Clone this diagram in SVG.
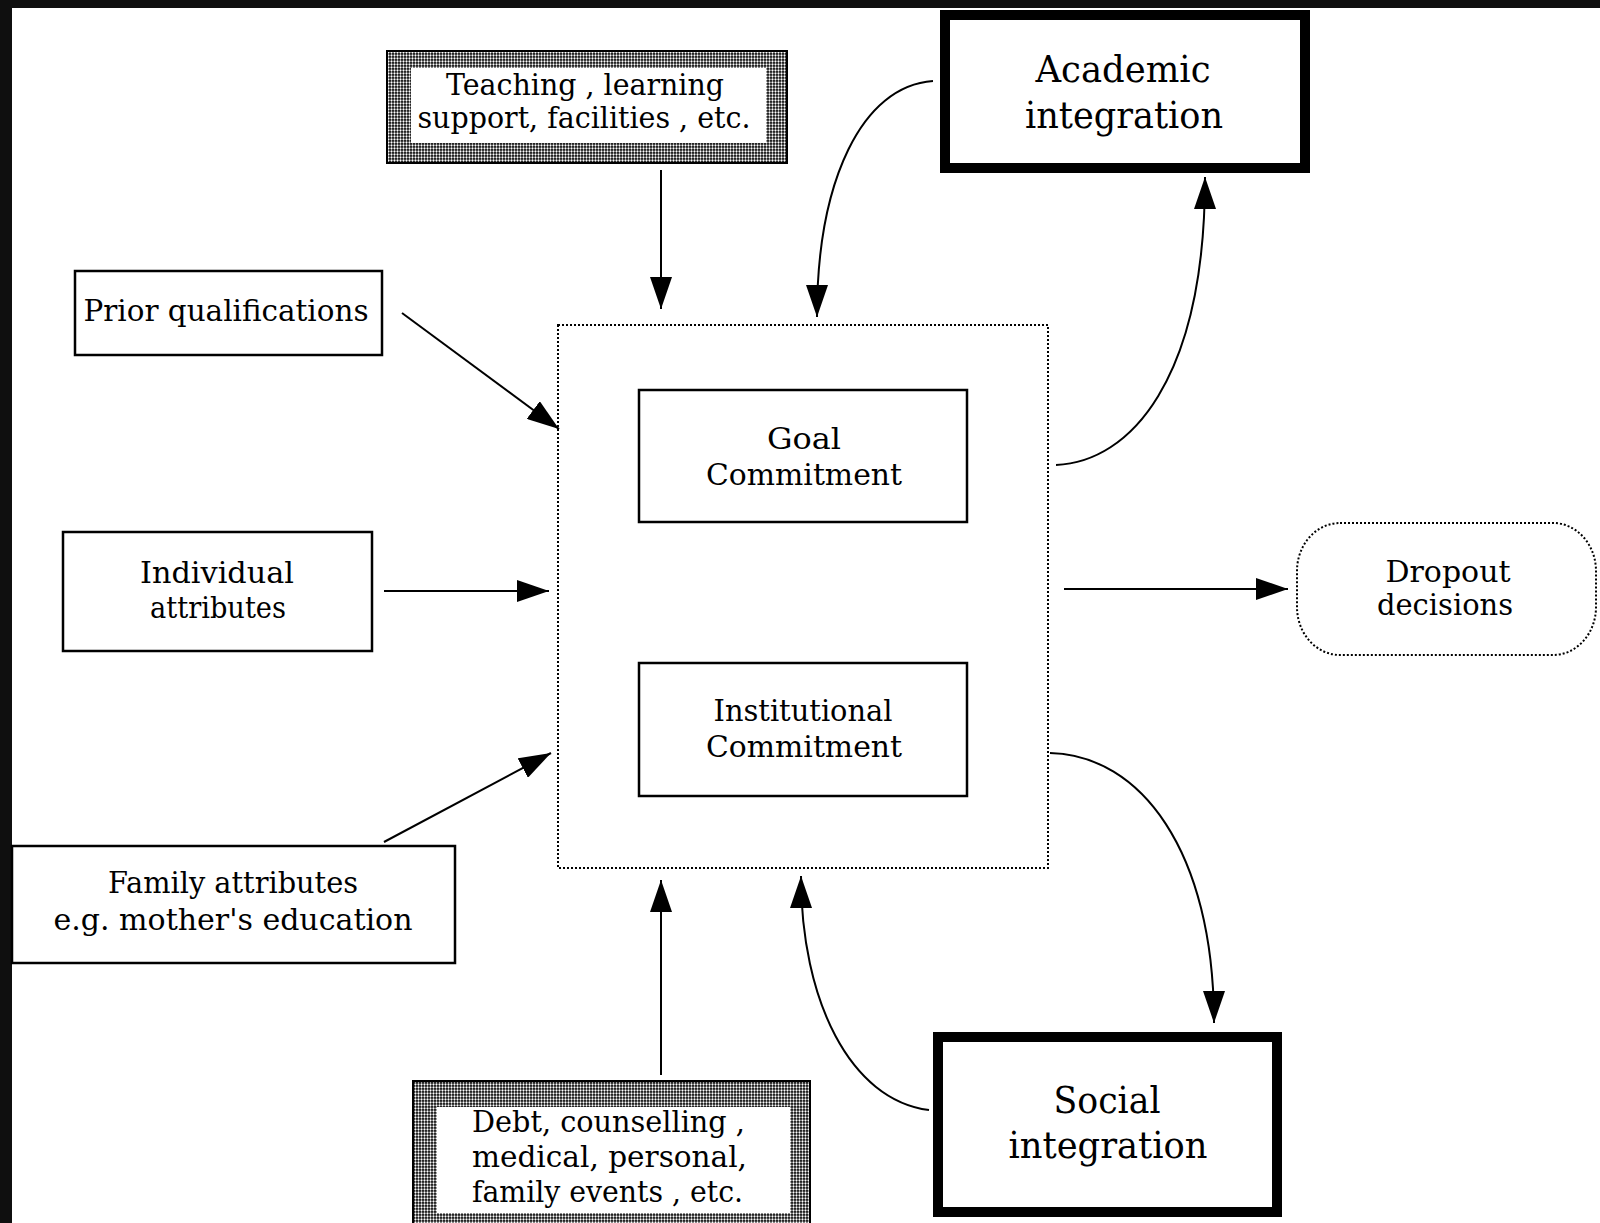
<svg xmlns="http://www.w3.org/2000/svg" width="1600" height="1223" viewBox="0 0 1600 1223">
  <defs>
    <!-- halftone fill used for the framed "external factor" boxes -->
    <pattern id="halftone" width="3" height="3" patternUnits="userSpaceOnUse">
      <rect width="3" height="3" fill="#000"/>
      <circle cx="1.5" cy="1.5" r="1.15" fill="#fff"/>
    </pattern>
    <marker id="arrow" viewBox="0 0 32 22" refX="32" refY="11" markerWidth="32" markerHeight="22" markerUnits="userSpaceOnUse" orient="auto">
      <path d="M0,0 L32,11 L0,22 Z" fill="#000"/>
    </marker>
    <style>
      .box { fill: #fff; stroke: #000; stroke-width: 2.5; }
      .thick { fill: #fff; stroke: #000; stroke-width: 10; }
      .dotted { fill: none; stroke: #000; stroke-width: 2; stroke-dasharray: 2 2; }
      .frame { fill: url(#halftone); stroke: #000; stroke-width: 2; }
      .inner { fill: #fff; stroke: none; }
      .label { font-family: "DejaVu Serif", "Liberation Serif", serif; font-size: 30px; fill: #000; }
      .big { font-size: 37px; }
      .mid { text-anchor: middle; }
      .link { fill: none; stroke: #000; stroke-width: 2; marker-end: url(#arrow); }
    </style>
  </defs>

  <!-- page and dark frame -->
  <rect width="1600" height="1223" fill="#fff"/>
  <rect x="0" y="0" width="1600" height="8" fill="#0f0f0f"/>
  <rect x="0" y="0" width="12" height="1223" fill="#0f0f0f"/>

  <!-- central commitment area -->
  <g id="commitment-area">
    <rect class="dotted" x="558" y="325" width="490" height="543"/>
  </g>

  <g id="goal-commitment">
    <rect class="box" x="639" y="390" width="328" height="132"/>
    <text class="label mid" x="804" y="449" textLength="74" lengthAdjust="spacingAndGlyphs">Goal</text>
    <text class="label mid" x="804" y="485" textLength="196" lengthAdjust="spacingAndGlyphs">Commitment</text>
  </g>

  <g id="institutional-commitment">
    <rect class="box" x="639" y="663" width="328" height="133"/>
    <text class="label mid" x="803" y="721" textLength="179" lengthAdjust="spacingAndGlyphs">Institutional</text>
    <text class="label mid" x="804" y="757" textLength="196" lengthAdjust="spacingAndGlyphs">Commitment</text>
  </g>

  <g id="teaching">
    <rect class="frame" x="387" y="51" width="400" height="112"/>
    <rect class="inner" x="411" y="68" width="355" height="75"/>
    <text class="label mid" x="585" y="95" textLength="278" lengthAdjust="spacingAndGlyphs">Teaching , learning</text>
    <text class="label mid" x="584" y="128" textLength="333" lengthAdjust="spacingAndGlyphs">support, facilities , etc.</text>
  </g>

  <g id="academic-integration">
    <rect class="thick" x="945" y="15" width="360" height="153"/>
    <text class="label big mid" x="1123" y="82" textLength="175" lengthAdjust="spacingAndGlyphs">Academic</text>
    <text class="label big mid" x="1124" y="128" textLength="198" lengthAdjust="spacingAndGlyphs">integration</text>
  </g>

  <g id="prior-qualifications">
    <rect class="box" x="75" y="271" width="307" height="84"/>
    <text class="label mid" x="226" y="321" textLength="285" lengthAdjust="spacingAndGlyphs">Prior qualifications</text>
  </g>

  <g id="individual-attributes">
    <rect class="box" x="63" y="532" width="309" height="119"/>
    <text class="label mid" x="217" y="583" textLength="154" lengthAdjust="spacingAndGlyphs">Individual</text>
    <text class="label mid" x="218" y="618" textLength="136" lengthAdjust="spacingAndGlyphs">attributes</text>
  </g>

  <g id="family-attributes">
    <rect class="box" x="12" y="846" width="443" height="117"/>
    <text class="label mid" x="233" y="893" textLength="250" lengthAdjust="spacingAndGlyphs">Family attributes</text>
    <text class="label mid" x="233" y="930" textLength="359" lengthAdjust="spacingAndGlyphs">e.g. mother's education</text>
  </g>

  <g id="dropout-decisions">
    <rect class="dotted" x="1297" y="523" width="299" height="132" rx="43" ry="48"/>
    <text class="label mid" x="1448" y="582" textLength="125" lengthAdjust="spacingAndGlyphs">Dropout</text>
    <text class="label mid" x="1445" y="615" textLength="136" lengthAdjust="spacingAndGlyphs">decisions</text>
  </g>

  <g id="debt-events">
    <rect class="frame" x="413" y="1081" width="397" height="150"/>
    <rect class="inner" x="437" y="1107" width="353" height="106"/>
    <text class="label" x="472" y="1132" textLength="273" lengthAdjust="spacingAndGlyphs">Debt, counselling ,</text>
    <text class="label" x="472" y="1167" textLength="275" lengthAdjust="spacingAndGlyphs">medical, personal,</text>
    <text class="label" x="472" y="1202" textLength="271" lengthAdjust="spacingAndGlyphs">family events , etc.</text>
  </g>

  <g id="social-integration">
    <rect class="thick" x="938" y="1037" width="339" height="175"/>
    <text class="label big mid" x="1107" y="1113" textLength="107" lengthAdjust="spacingAndGlyphs">Social</text>
    <text class="label big mid" x="1108" y="1158" textLength="199" lengthAdjust="spacingAndGlyphs">integration</text>
  </g>

  <!-- connectors -->
  <g id="connectors">
    <path class="link" d="M661,170 L661,309"/>
    <path class="link" d="M933,81 C862,86 817,180 817,317"/>
    <path class="link" d="M1056,465 C1130,462 1205,380 1205,177"/>
    <path class="link" d="M402,313 L559,429"/>
    <path class="link" d="M384,591 L549,591"/>
    <path class="link" d="M384,842 L551,753"/>
    <path class="link" d="M1064,589 L1288,589"/>
    <path class="link" d="M1050,753 C1140,755 1214,850 1214,1023"/>
    <path class="link" d="M661,1075 L661,880"/>
    <path class="link" d="M929,1110 C850,1100 801,1000 801,876"/>
  </g>
</svg>
